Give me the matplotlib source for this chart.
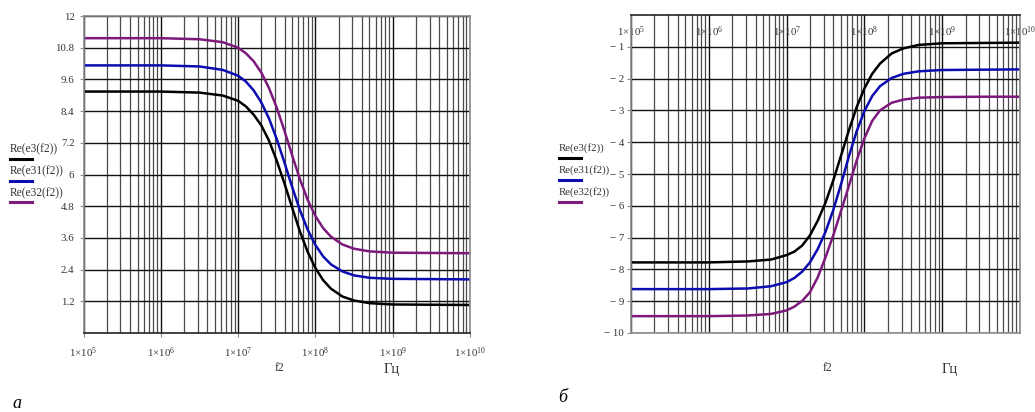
import matplotlib
matplotlib.use('Agg')
import matplotlib.pyplot as plt
from matplotlib.lines import Line2D
from matplotlib.ticker import FixedLocator, LogLocator, NullFormatter
import numpy as np

plt.rcParams['font.family'] = ['Liberation Serif', 'DejaVu Serif']
plt.rcParams['mathtext.fontset'] = 'custom'
plt.rcParams['mathtext.rm'] = 'Liberation Serif'
plt.rcParams['mathtext.it'] = 'Liberation Serif:italic'

# series names and colours
names = ['Re(e3(f2))', 'Re(e31(f2))', 'Re(e32(f2))']
colors = ['#000000', '#0c0cb0', '#7c1a7c']

# log10 of the frequency (Hz) at which the curves were read
lg_f = [5.0, 6.0, 6.5, 6.8, 7.0, 7.1, 7.2, 7.3, 7.4, 7.5, 7.6, 7.7,
        7.8, 7.9, 8.0, 8.1, 8.2, 8.35, 8.5, 8.7, 9.0, 9.5, 10.0]

# panel a: Re(eps)
a_e3 = [9.14, 9.14, 9.10, 8.99, 8.79, 8.58, 8.27, 7.86, 7.28, 6.52, 5.66, 4.74,
        3.84, 3.07, 2.46, 2.00, 1.68, 1.38, 1.23, 1.13, 1.08, 1.07, 1.06]
a_e31 = [10.13, 10.13, 10.09, 9.96, 9.74, 9.52, 9.19, 8.73, 8.12, 7.34, 6.45, 5.52,
         4.65, 3.91, 3.33, 2.90, 2.60, 2.33, 2.18, 2.09, 2.05, 2.04, 2.03]
a_e32 = [11.16, 11.16, 11.12, 11.01, 10.80, 10.59, 10.29, 9.86, 9.27, 8.53, 7.65, 6.72,
         5.82, 5.04, 4.43, 3.97, 3.65, 3.35, 3.19, 3.09, 3.04, 3.03, 3.02]

# panel b
b_e3 = [-7.78, -7.78, -7.75, -7.69, -7.55, -7.44, -7.25, -6.93, -6.47, -5.90, -5.20, -4.42,
        -3.63, -2.90, -2.31, -1.85, -1.53, -1.21, -1.05, -0.94, -0.89, -0.88, -0.87]
b_e31 = [-8.62, -8.62, -8.60, -8.53, -8.40, -8.27, -8.07, -7.78, -7.36, -6.82, -6.13, -5.32,
         -4.45, -3.66, -3.02, -2.55, -2.24, -1.98, -1.85, -1.77, -1.73, -1.72, -1.71]
b_e32 = [-9.47, -9.47, -9.45, -9.40, -9.29, -9.17, -8.99, -8.72, -8.25, -7.62, -6.93, -6.16,
         -5.38, -4.58, -3.88, -3.33, -3.00, -2.76, -2.66, -2.60, -2.58, -2.57, -2.57]

a_ticks = [1.2, 2.4, 3.6, 4.8, 6, 7.2, 8.4, 9.6, 10.8, 12]
a_tick_labels = ['1.2', '2.4', '3.6', '4.8', '6', '7.2', '8.4', '9.6', '10.8', '12']
b_ticks = [-1, -2, -3, -4, -5, -6, -7, -8, -9, -10]
b_tick_labels = ['\u2212 1', '\u2212 2', '\u2212 3', '\u2212 4', '\u2212 5',
                 '\u2212 6', '\u2212 7', '\u2212 8', '\u2212 9', '\u2212 10']
x_ticks = [1e5, 1e6, 1e7, 1e8, 1e9, 1e10]
x_tick_labels = [r'$1{\times}10^{%d}$' % p for p in range(5, 11)]

W, H = 1035, 412
fig = plt.figure(figsize=(W / 100, H / 100), dpi=100)
ax_a = fig.add_axes([83.5 / W, 1 - 333 / H, 386.5 / W, 317 / H])
ax_b = fig.add_axes([631 / W, 1 - 333 / H, 389 / W, 318 / H])

txt_col = '#333333'
freq = 10.0 ** np.array(lg_f)


def style(ax):
    ax.set_xscale('log')
    ax.set_xlim(1e5, 1e10)
    ax.xaxis.set_major_locator(FixedLocator(x_ticks))
    ax.xaxis.set_minor_locator(LogLocator(base=10, subs=np.arange(2, 10)))
    ax.xaxis.set_minor_formatter(NullFormatter())
    ax.grid(True, which='major', color='#111111', lw=1.0)
    ax.grid(True, which='minor', axis='x', color='#4a4a4a', lw=0.9)
    ax.set_axisbelow(True)
    for s in ax.spines.values():
        s.set_color('#8a8a8a')
        s.set_linewidth(1.2)
    ax.tick_params(which='minor', length=0)
    ax.tick_params(which='major', length=3, color='#8a8a8a', labelsize=7.8, labelcolor=txt_col)


for ax, series in ((ax_a, (a_e3, a_e31, a_e32)), (ax_b, (b_e3, b_e31, b_e32))):
    style(ax)
    for val, c in zip(series, colors):
        ax.plot(freq, val, color=c, lw=1.8, solid_joinstyle='round')

ax_a.set_ylim(0, 12)
ax_a.set_yticks(a_ticks)
ax_a.set_yticklabels(a_tick_labels)
ax_a.set_xticklabels(x_tick_labels)
ax_a.tick_params(axis='x', pad=6)
ax_a.spines['bottom'].set_color('#222222')

ax_b.set_ylim(-10, 0)
ax_b.set_yticks(b_ticks)
ax_b.set_yticklabels(b_tick_labels)
ax_b.set_xticklabels(x_tick_labels)
ax_b.tick_params(axis='y', pad=2)
ax_b.tick_params(axis='x', which='major', bottom=False, labelbottom=False,
                 top=False, labeltop=True, pad=-20)
ax_b.spines['top'].set_color('#222222')

# axis captions
fig.text(280 / W, 1 - 368 / H, 'f2', fontsize=8.5, color=txt_col, ha='center', va='center')
fig.text(392 / W, 1 - 370 / H, 'Гц', fontsize=10.5, color=txt_col, ha='center', va='center')
fig.text(828 / W, 1 - 368 / H, 'f2', fontsize=8.5, color=txt_col, ha='center', va='center')
fig.text(950 / W, 1 - 369 / H, 'Гц', fontsize=10.5, color=txt_col, ha='center', va='center')

# Mathcad-style legends: text with a short coloured line under it
for x0, rows, fs in ((10, (149, 171, 193), 8.3), (559, (148, 170, 192), 7.8)):
    for name, c, y in zip(names, colors, rows):
        fig.text(x0 / W, 1 - y / H, name, fontsize=fs, color=txt_col, ha='left', va='center')
        fig.add_artist(Line2D([x0 / W, (x0 + 22) / W], [1 - (y + 9.5) / H] * 2,
                              color=c, lw=2.2, transform=fig.transFigure))

# panel letters
fig.text(17 / W, 1 - 403 / H, 'а', fontsize=13, style='italic', ha='center', va='center')
fig.text(563 / W, 1 - 397 / H, 'б', fontsize=13, style='italic', ha='center', va='center')

fig.savefig('out.png', dpi=100, facecolor='white')
